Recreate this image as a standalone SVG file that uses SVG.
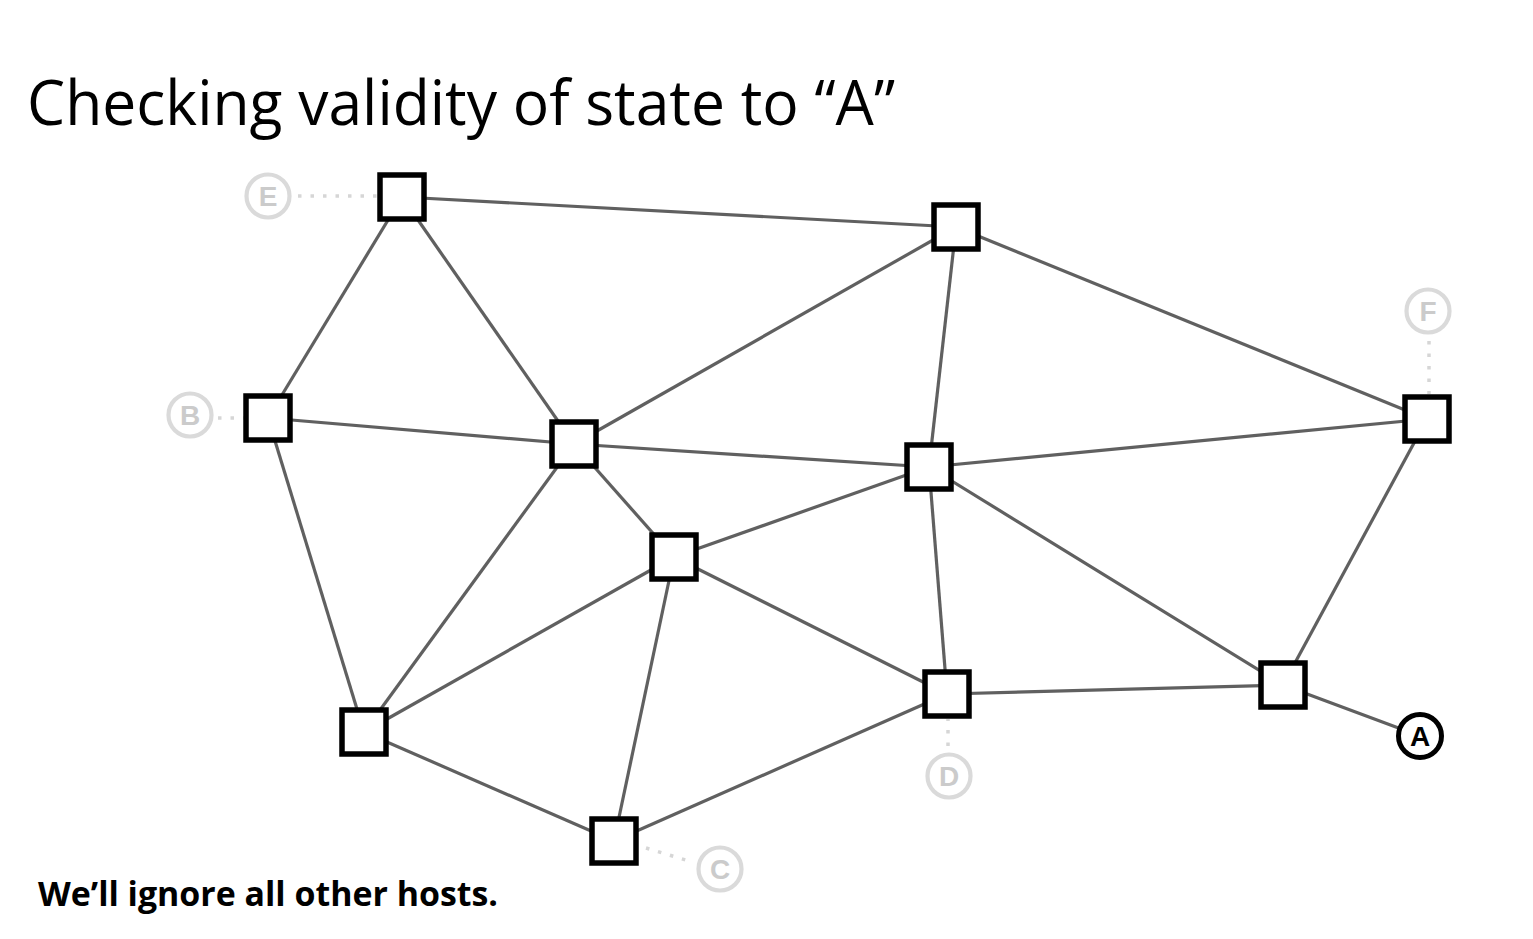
<svg xmlns="http://www.w3.org/2000/svg" width="1533" height="939" viewBox="0 0 1533 939">
<style>
.edge{stroke:#606060;stroke-width:3.2;fill:none}
.dot{stroke:#d6d6d6;stroke-width:3.5;stroke-dasharray:3.5 9;fill:none}
.node{fill:#fff;stroke:#000;stroke-width:5.5}
.host{fill:#fff;stroke:#dadada;stroke-width:4.2}
.hl{font-family:"Liberation Sans",Arial,sans-serif;font-weight:bold;font-size:28px;fill:#cbcbcb;text-anchor:middle}
.target{fill:#fff;stroke:#000;stroke-width:5}
.tl{font-family:"Liberation Sans",Arial,sans-serif;font-weight:bold;font-size:28px;fill:#000;text-anchor:middle}
</style>
<rect width="1533" height="939" fill="#fff"/>
<text x="27" y="125" font-family="'Open Sans','Liberation Sans',sans-serif" font-size="62" fill="#000" textLength="868" lengthAdjust="spacingAndGlyphs">Checking validity of state to “A”</text>
<text x="38" y="906" font-family="'Open Sans','Liberation Sans',sans-serif" font-weight="bold" font-size="34" fill="#000" textLength="460" lengthAdjust="spacingAndGlyphs">We’ll ignore all other hosts.</text>
<g id="connectors">
<line class="edge" x1="402" y1="197" x2="956" y2="227"/>
<line class="edge" x1="402" y1="197" x2="268" y2="418"/>
<line class="edge" x1="402" y1="197" x2="574" y2="444"/>
<line class="edge" x1="956" y1="227" x2="574" y2="444"/>
<line class="edge" x1="956" y1="227" x2="929" y2="467"/>
<line class="edge" x1="956" y1="227" x2="1427" y2="419"/>
<line class="edge" x1="268" y1="418" x2="574" y2="444"/>
<line class="edge" x1="268" y1="418" x2="364" y2="732"/>
<line class="edge" x1="574" y1="444" x2="929" y2="467"/>
<line class="edge" x1="574" y1="444" x2="674" y2="557"/>
<line class="edge" x1="574" y1="444" x2="364" y2="732"/>
<line class="edge" x1="929" y1="467" x2="1427" y2="419"/>
<line class="edge" x1="929" y1="467" x2="674" y2="557"/>
<line class="edge" x1="929" y1="467" x2="947" y2="694"/>
<line class="edge" x1="929" y1="467" x2="1283" y2="685"/>
<line class="edge" x1="1427" y1="419" x2="1283" y2="685"/>
<line class="edge" x1="674" y1="557" x2="364" y2="732"/>
<line class="edge" x1="674" y1="557" x2="947" y2="694"/>
<line class="edge" x1="674" y1="557" x2="614" y2="841"/>
<line class="edge" x1="364" y1="732" x2="614" y2="841"/>
<line class="edge" x1="947" y1="694" x2="1283" y2="685"/>
<line class="edge" x1="947" y1="694" x2="614" y2="841"/>
<line class="edge" x1="1283" y1="685" x2="1420" y2="736"/>
<line class="dot" x1="298" y1="196" x2="378" y2="196"/>
<line class="dot" x1="218" y1="418" x2="244" y2="418"/>
<line class="dot" x1="1429" y1="341" x2="1429" y2="394"/>
<line class="dot" x1="948" y1="746" x2="948" y2="719"/>
<line class="dot" x1="646" y1="848" x2="692" y2="862"/>
</g>
<g id="n1"><rect class="node" x="380" y="175" width="44" height="44"/></g>
<g id="n2"><rect class="node" x="934" y="205" width="44" height="44"/></g>
<g id="n3"><rect class="node" x="246" y="396" width="44" height="44"/></g>
<g id="n4"><rect class="node" x="552" y="422" width="44" height="44"/></g>
<g id="n5"><rect class="node" x="907" y="445" width="44" height="44"/></g>
<g id="n6"><rect class="node" x="1405" y="397" width="44" height="44"/></g>
<g id="n7"><rect class="node" x="652" y="535" width="44" height="44"/></g>
<g id="n8"><rect class="node" x="342" y="710" width="44" height="44"/></g>
<g id="n9"><rect class="node" x="925" y="672" width="44" height="44"/></g>
<g id="n10"><rect class="node" x="1261" y="663" width="44" height="44"/></g>
<g id="n11"><rect class="node" x="592" y="819" width="44" height="44"/></g>
<g id="hostE"><circle class="host" cx="268" cy="196" r="21.5"/><text class="hl" x="268" y="206">E</text></g>
<g id="hostB"><circle class="host" cx="190" cy="415" r="21.5"/><text class="hl" x="190" y="425">B</text></g>
<g id="hostF"><circle class="host" cx="1428" cy="311" r="21.5"/><text class="hl" x="1428" y="321">F</text></g>
<g id="hostD"><circle class="host" cx="949" cy="776" r="21.5"/><text class="hl" x="949" y="786">D</text></g>
<g id="hostC"><circle class="host" cx="720" cy="869" r="21.5"/><text class="hl" x="720" y="879">C</text></g>
<g id="hostA"><circle class="target" cx="1420" cy="736" r="21.5"/><text class="tl" x="1420" y="746">A</text></g>
</svg>
